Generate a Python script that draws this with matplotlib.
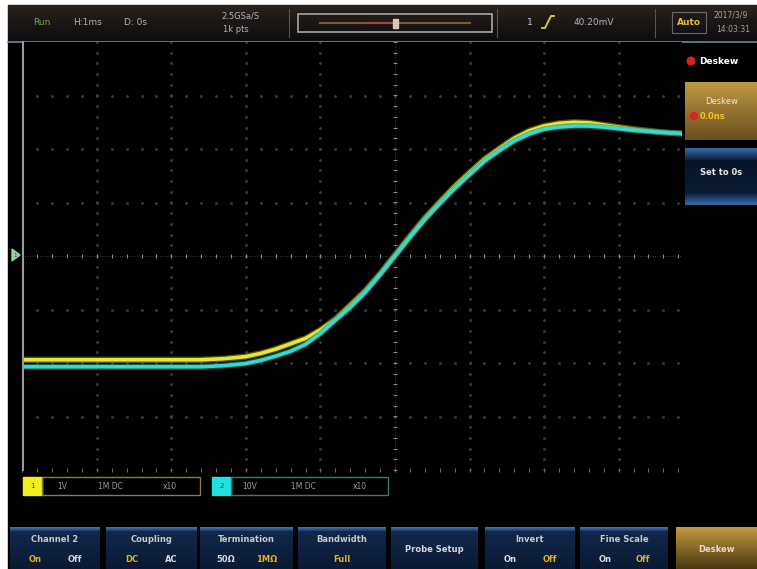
import matplotlib.pyplot as plt
import numpy as np
from matplotlib.patches import Rectangle, Circle, Polygon

W, H = 757, 569

# time in divisions (1 div = 1 ms), level in divisions
t_div = [-4.99, -4.0, -3.0, -2.6, -2.3, -2.0, -1.8, -1.6, -1.4, -1.2, -1.0,
         -0.8, -0.6, -0.4, -0.2, 0.0, 0.2, 0.4, 0.6, 0.8, 1.0, 1.2, 1.4,
         1.6, 1.8, 2.0, 2.2, 2.4, 2.6, 2.8, 3.0, 3.2, 3.4, 3.6, 3.85]
ch1_div = [-1.94, -1.94, -1.94, -1.94, -1.92, -1.88, -1.82, -1.74, -1.64,
           -1.54, -1.38, -1.18, -0.92, -0.65, -0.33, 0.02, 0.37, 0.71, 1.01,
           1.30, 1.56, 1.81, 2.01, 2.20, 2.34, 2.43, 2.48, 2.50, 2.49, 2.45,
           2.41, 2.37, 2.34, 2.31, 2.29]
ch2_div = [-2.07, -2.07, -2.07, -2.07, -2.05, -2.01, -1.95, -1.87, -1.78,
           -1.65, -1.45, -1.20, -0.96, -0.68, -0.35, 0.0, 0.35, 0.68, 0.98,
           1.26, 1.52, 1.77, 1.97, 2.15, 2.28, 2.37, 2.41, 2.43, 2.43, 2.41,
           2.38, 2.35, 2.33, 2.31, 2.29]

top_items = [("Run", 42, "#6aa83a"), ("H:1ms", 88, "#b0b0b0"), ("D: 0s", 135, "#b0b0b0")]
menu_titles = ["Channel 2", "Coupling", "Termination", "Bandwidth",
               "Probe Setup", "Invert", "Fine Scale", "Deskew"]
menu_options = [[("On", True), ("Off", False)], [("DC", True), ("AC", False)],
                [("50Ω", False), ("1MΩ", True)], [("Full", True)], [],
                [("On", False), ("Off", True)], [("On", False), ("Off", True)], []]
menu_x = [(10, 100), (106, 197), (200, 293), (298, 386), (391, 478),
          (485, 575), (580, 668), (676, 757)]

GOLD = "#e0b020"

fig = plt.figure(figsize=(W / 100, H / 100), dpi=100)
fig.patch.set_facecolor("white")
bg = fig.add_axes([0, 0, 1, 1])
bg.set_xlim(0, W)
bg.set_ylim(H, 0)
bg.axis("off")


def grad(x0, y0, x1, y1, c_top, c_bot, z=1):
    c0 = np.array(plt.matplotlib.colors.to_rgb(c_top))
    c1 = np.array(plt.matplotlib.colors.to_rgb(c_bot))
    k = np.linspace(0, 1, 64)[:, None, None]
    img = c0 * (1 - k) + c1 * k
    bg.imshow(img, extent=(x0, x1, y1, y0), aspect="auto", zorder=z,
              interpolation="bilinear")


# black screen
bg.add_patch(Rectangle((8, 5), W - 8, H - 5, color="black", zorder=0))

# top status bar
grad(8, 5, W, 41, "#2a221c", "#0c0c10")
bg.plot([8, W], [41.5, 41.5], color="#6f8ea0", lw=1.2, zorder=3)
for txt, x, c in top_items:
    bg.text(x, 22, txt, color=c, fontsize=6.5, ha="center", va="center", zorder=4)
bg.text(240, 16, "2.5GSa/S", color="#b0b0b0", fontsize=6, ha="center", va="center", zorder=4)
bg.text(236, 29, "1k pts", color="#b0b0b0", fontsize=6, ha="center", va="center", zorder=4)
for x in (289, 497, 655):
    bg.plot([x, x], [9, 37], color="#555555", lw=0.8, zorder=3)
bg.add_patch(Rectangle((298, 14), 194, 18, fill=False, ec="#a8a8a8", lw=1.2, zorder=4))
bg.plot([320, 470], [23, 23], color="#7a5a3a", lw=1.5, zorder=4)
bg.plot([365, 392], [23, 23], color="#a04a3a", lw=1.5, zorder=4)
bg.add_patch(Rectangle((393, 18.5), 5, 9, color="#d8c8b8", zorder=5))
bg.text(530, 22, "1", color="#c8c8c8", fontsize=6.5, ha="center", va="center", zorder=4)
# rising edge symbol
bg.plot([542, 545, 551, 554], [28, 28, 16, 16], color="#e0d040", lw=1.3, zorder=4)
bg.text(594, 22, "40.20mV", color="#b0b0b0", fontsize=6.5, ha="center", va="center", zorder=4)
bg.add_patch(Rectangle((672, 12), 34, 21, fill=False, ec="#666666", lw=0.8, zorder=4))
bg.text(689, 22, "Auto", color="#e0c030", fontsize=6.5, ha="center", va="center",
        fontweight="bold", zorder=4)
bg.text(731, 15, "2017/3/9", color="#a0a0a0", fontsize=5.5, ha="center", va="center", zorder=4)
bg.text(733, 29, "14:03:31", color="#a0a0a0", fontsize=5.5, ha="center", va="center", zorder=4)

# trigger level marker on left, trigger position on top
bg.add_patch(Polygon([[12, 249], [12, 261], [20, 255]], color="#9ad0a0", zorder=4))
bg.text(15, 255, "1", color="#204020", fontsize=4, ha="center", va="center", zorder=5)
bg.add_patch(Polygon([[391, 43], [399, 43], [395, 48]], color="#e07020", zorder=6))

# right side menu
bg.add_patch(Circle((691, 61), 3.8, color="#e02020", zorder=4))
bg.text(699, 61, "Deskew", color="white", fontsize=6.5, fontweight="bold",
        ha="left", va="center", zorder=4)
grad(685, 82, W, 140, "#c09840", "#6a5020")
bg.text(722, 101, "Deskew", color="#f0e8d8", fontsize=6, ha="center", va="center", zorder=4)
bg.add_patch(Circle((694, 116), 3.5, color="#e02020", zorder=4))
bg.text(700, 116, "0.0ns", color="#f0c020", fontsize=6, ha="left", va="center",
        fontweight="bold", zorder=4)
grad(685, 148, W, 160, "#3a6aa8", "#10203a")
grad(685, 160, W, 194, "#081428", "#0c1c34")
grad(685, 194, W, 205, "#10284a", "#3a6aa8")
bg.text(721, 172, "Set to 0s", color="#e8e8e8", fontsize=6, fontweight="bold",
        ha="center", va="center", zorder=4)

# channel labels
for (x0, x1, num, c, oc, items) in [
        (23, 200, "1", "#f0f020", "#8a7a50", [("1V", 62), ("1M DC", 110), ("x10", 170)]),
        (212, 388, "2", "#20e0e0", "#3a7a70", [("10V", 250), ("1M DC", 303), ("x10", 360)])]:
    bg.add_patch(Rectangle((x0, 477), 19, 18, color=c, zorder=4))
    bg.text(x0 + 9.5, 486, num, color="#333333", fontsize=5, ha="center", va="center", zorder=5)
    bg.add_patch(Rectangle((x0 + 19, 477), x1 - x0 - 19, 18, fill=False, ec=oc, lw=1, zorder=4))
    for s, x in items:
        bg.text(x, 486, s, color="#9a9a9a", fontsize=5.5, ha="center", va="center", zorder=5)

# bottom menu buttons
for i, ((x0, x1), title, opts) in enumerate(zip(menu_x, menu_titles, menu_options)):
    cx = (x0 + x1) / 2
    if title == "Deskew":
        grad(x0, 527, x1, H, "#c09840", "#4a3810")
        bg.text(cx, 549, title, color="#e8dcc0", fontsize=6, fontweight="bold",
                ha="center", va="center", zorder=4)
        continue
    grad(x0, 527, x1, 531, "#4a7ab8", "#1a3a6a")
    grad(x0, 531, x1, H, "#12284a", "#0a1a34")
    if not opts:
        bg.text(cx, 549, title, color="#d8d8d8", fontsize=6, fontweight="bold",
                ha="center", va="center", zorder=4)
        continue
    bg.text(cx, 540, title, color="#c8c8c8", fontsize=6, fontweight="bold",
            ha="center", va="center", zorder=4)
    if len(opts) == 1:
        pos = [cx]
    else:
        pos = [x0 + (x1 - x0) * 0.28, x0 + (x1 - x0) * 0.72]
    for (s, sel), x in zip(opts, pos):
        bg.text(x, 559, s, color=GOLD if sel else "#d8d8d8", fontsize=6,
                fontweight="bold", ha="center", va="center", zorder=4)

# scope graticule
ax = fig.add_axes([23 / W, (H - 470) / H, (682 - 23) / W, (470 - 42) / H])
ax.set_facecolor("black")
ax.set_xlim(-4.99, 3.85)
ax.set_ylim(-4, 4)
ax.set_xticks([])
ax.set_yticks([])
for s in ax.spines.values():
    s.set_visible(False)
ax.spines["left"].set_visible(True)
ax.spines["left"].set_color("#9a9a9a")
ax.spines["left"].set_linewidth(1.5)

minor_x = np.arange(-5, 4, 0.2)
minor_y = np.arange(-4, 4.01, 0.2)
for gx in range(-4, 4):
    if gx == 0:
        continue
    ax.plot(np.full_like(minor_y, gx), minor_y, ls="none", marker="s", ms=0.9,
            color="#3e3e3e")
for gy in range(-3, 4):
    if gy == 0:
        continue
    ax.plot(minor_x, np.full_like(minor_x, gy), ls="none", marker="s", ms=0.9,
            color="#3e3e3e")
# center cross with ticks
ax.plot([-5, 4], [0, 0], color="#505050", lw=0.6, ls=(0, (1, 2)))
ax.plot([0, 0], [-4, 4], color="#505050", lw=0.6, ls=(0, (1, 2)))
ax.plot(minor_x, np.zeros_like(minor_x), ls="none", marker="|", ms=3, color="#8a8a8a", mew=0.8)
ax.plot(np.zeros_like(minor_y), minor_y, ls="none", marker="_", ms=3, color="#8a8a8a", mew=0.8)
ax.plot(minor_x, np.full_like(minor_x, -4), ls="none", marker="|", ms=3, color="#6a6a6a", mew=0.8,
        clip_on=False)

# traces (glow + core)
ax.plot(t_div, ch1_div, color="#8a8a10", lw=4.5, alpha=0.6, solid_capstyle="butt")
ax.plot(t_div, ch1_div, color="#e8e830", lw=2.6, solid_capstyle="butt")
ax.plot(t_div, ch2_div, color="#1a8a80", lw=4.2, alpha=0.6, solid_capstyle="butt")
ax.plot(t_div, ch2_div, color="#38d8d0", lw=2.6, solid_capstyle="butt")

fig.savefig("out.png", dpi=100, facecolor=fig.get_facecolor())
